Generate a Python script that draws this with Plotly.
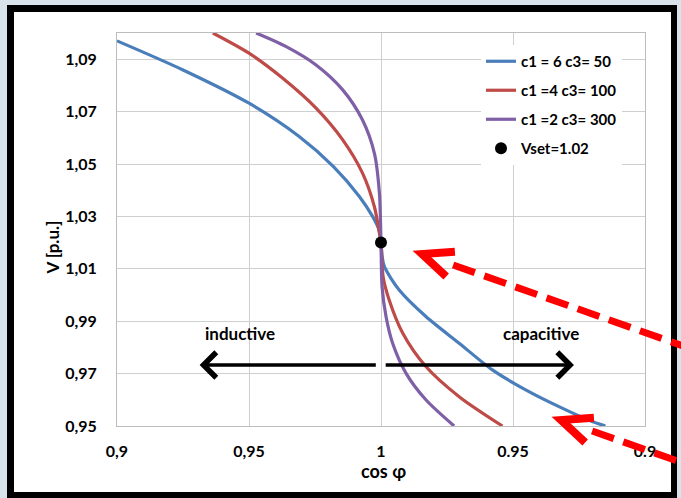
import math
import plotly.graph_objects as go

# ---------------- data ----------------
# x: signed distance from cos(phi)=1 ; negative = inductive side, positive = capacitive side
blue_x = [-0.1, -0.075, -0.05, -0.031, -0.018, -0.0082, -0.0032, -0.0008, 0.0, 0.0004,
          0.0013, 0.0069, 0.017, 0.0296, 0.0422, 0.0548, 0.0674, 0.08, 0.085]
blue_v = [1.097, 1.0859, 1.0732, 1.0605, 1.049, 1.0376, 1.030, 1.025, 1.020, 1.015,
          1.0108, 1.0019, 0.9918, 0.9816, 0.9714, 0.9638, 0.9574, 0.9517, 0.950]

red_x = [-0.0637, -0.05, -0.0372, -0.0246, -0.0145, -0.007, -0.0025, -0.0006, 0.0,
         0.0008, 0.0031, 0.0082, 0.017, 0.0296, 0.046]
red_v = [1.100, 1.0923, 1.0827, 1.0713, 1.0592, 1.0465, 1.0337, 1.0236, 1.020,
         1.007, 0.9981, 0.9855, 0.9727, 0.9612, 0.950]

purple_x = [-0.0473, -0.0359, -0.0246, -0.0145, -0.007, -0.0025, -0.0006, 0.0,
            0.0004, 0.0019, 0.0044, 0.0095, 0.017, 0.0277]
purple_v = [1.100, 1.0948, 1.0878, 1.0783, 1.0668, 1.0541, 1.0389, 1.020,
            1.0032, 0.9918, 0.9816, 0.9701, 0.960, 0.950]

vset_x = [0.0]
vset_v = [1.02]

series_names = ["c1 = 6 c3= 50", "c1 =4 c3= 100", "c1 =2 c3= 300", "Vset=1.02"]

x_tickvals = [-0.1, -0.05, 0.0, 0.05, 0.1]
x_ticktext = ["0,9", "0,95", "1", "0.95", "0.9"]
y_tickvals = [0.95, 0.97, 0.99, 1.01, 1.03, 1.05, 1.07, 1.09]
y_ticktext = ["0,95", "0,97", "0,99", "1,01", "1,03", "1,05", "1,07", "1,09"]

# ---------------- figure ----------------
W, H = 681, 498
ML, MR, MT, MB = 117, 36, 33, 72
PW, PH = W - ML - MR, H - MT - MB


def px_x(p):
    return (p - ML) / PW


def px_y(p):
    return (H - MB - p) / PH


FONT = "Lato"
BLUE, RED, PURPLE = "#4A7EBB", "#BE4B48", "#7F5FA6"

fig = go.Figure()
for xs, vs, name, col in [(blue_x, blue_v, series_names[0], BLUE),
                          (red_x, red_v, series_names[1], RED),
                          (purple_x, purple_v, series_names[2], PURPLE)]:
    fig.add_trace(go.Scatter(x=xs, y=vs, mode="lines", name=name, legendgroup=name,
                             line=dict(color=col, width=3.2, shape="spline", smoothing=0.8)))
fig.add_trace(go.Scatter(x=vset_x, y=vset_v, mode="markers", name=series_names[3],
                         legendgroup=series_names[3],
                         marker=dict(color="black", size=12)))

shapes = [
    # black frame and white page
    dict(type="rect", xref="paper", yref="paper", layer="below",
         x0=px_x(7), x1=px_x(677), y0=px_y(510), y1=px_y(5),
         fillcolor="black", line=dict(width=0)),
    dict(type="rect", xref="paper", yref="paper", layer="below",
         x0=px_x(14), x1=px_x(671), y0=px_y(492), y1=px_y(12),
         fillcolor="white", line=dict(width=0)),
]

# red dashed pointer arrows (decoration)
red_tips = [(422, 254), (561, 420)]
ang = math.radians(19.4)
half_open = math.radians(23.5)
arm = 33
for tx, ty in red_tips:
    dx, dy = math.cos(ang), math.sin(ang)
    shapes.append(dict(type="line", xref="paper", yref="paper", layer="above",
                       x0=px_x(tx + 33 * dx), y0=px_y(ty + 33 * dy),
                       x1=px_x(tx + 320 * dx), y1=px_y(ty + 320 * dy),
                       line=dict(color="#FF0000", width=7, dash="23px,10px")))
    a1 = ang - half_open
    a2 = ang + half_open
    p1 = (tx + arm * math.cos(a1), ty + arm * math.sin(a1))
    p2 = (tx + arm * math.cos(a2), ty + arm * math.sin(a2))
    path = "M {:.5f},{:.5f} L {:.5f},{:.5f} L {:.5f},{:.5f}".format(
        px_x(p1[0]), px_y(p1[1]), px_x(tx), px_y(ty), px_x(p2[0]), px_y(p2[1]))
    shapes.append(dict(type="path", xref="paper", yref="paper", layer="above", path=path,
                       line=dict(color="#FF0000", width=8), fillcolor="rgba(0,0,0,0)"))

annotations = []

# black direction arrows
arrow_y = 0.9733
annotations.append(dict(x=-0.0687, y=arrow_y, ax=-0.0014, ay=arrow_y, xref="x", yref="y",
                        axref="x", ayref="y", text="", showarrow=True,
                        arrowhead=4, arrowsize=1.4, arrowwidth=3.5, arrowcolor="black"))
annotations.append(dict(x=0.0731, y=arrow_y, ax=0.0012, ay=arrow_y, xref="x", yref="y",
                        axref="x", ayref="y", text="", showarrow=True,
                        arrowhead=4, arrowsize=1.4, arrowwidth=3.5, arrowcolor="black"))
annotations.append(dict(x=-0.0536, y=0.9852, xref="x", yref="y", text="inductive",
                        showarrow=False, font=dict(family=FONT, size=17, weight="bold", color="black")))
annotations.append(dict(x=0.0606, y=0.9852, xref="x", yref="y", text="capacitive",
                        showarrow=False, font=dict(family=FONT, size=17, weight="bold", color="black")))

# axis titles
annotations.append(dict(xref="paper", yref="paper", x=px_x(383), y=px_y(484), text="cos φ",
                        showarrow=False, font=dict(family=FONT, size=18, weight="bold", color="black")))
annotations.append(dict(xref="paper", yref="paper", x=px_x(39), y=px_y(248), text="V [p.u.]",
                        textangle=-90, showarrow=False,
                        font=dict(family=FONT, size=17, weight="bold", color="black")))

fig.update_layout(
    width=W, height=H,
    margin=dict(l=ML, r=MR, t=MT, b=MB, pad=0),
    paper_bgcolor="#D9E3EC",
    plot_bgcolor="white",
    font=dict(family=FONT, color="black"),
    showlegend=True,
    legend=dict(x=px_x(481), y=px_y(45), xanchor="left", yanchor="top",
                bgcolor="white", borderwidth=0, traceorder="grouped", tracegroupgap=6.5,
                font=dict(family=FONT, size=15, weight="bold", color="black")),
    shapes=shapes,
    annotations=annotations,
)
fig.update_xaxes(range=[-0.1, 0.1], tickvals=x_tickvals, ticktext=x_ticktext,
                 showgrid=True, gridcolor="#CFCFCF", gridwidth=1, zeroline=False,
                 showline=True, linecolor="#BDBDBD", linewidth=1, mirror=True,
                 ticks="", ticklabelstandoff=11,
                 tickfont=dict(family=FONT, size=16, weight="bold", color="black"))
fig.update_yaxes(range=[0.95, 1.10], tickvals=y_tickvals, ticktext=y_ticktext,
                 showgrid=True, gridcolor="#CFCFCF", gridwidth=1, zeroline=False,
                 showline=True, linecolor="#BDBDBD", linewidth=1, mirror=True,
                 ticks="", ticklabelstandoff=16,
                 tickfont=dict(family=FONT, size=16, weight="bold", color="black"))

fig.write_html("out.html")
